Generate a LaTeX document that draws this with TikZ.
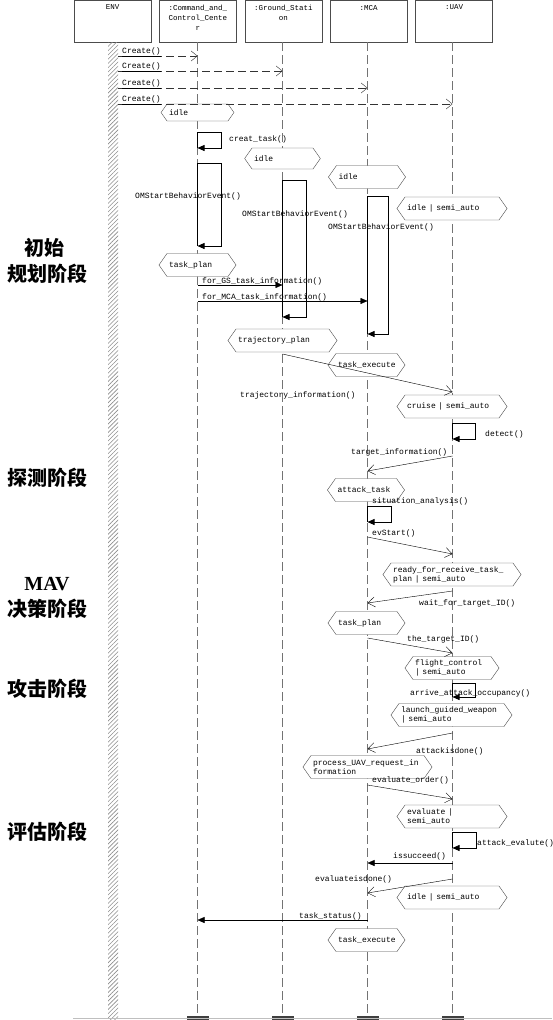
\documentclass[tikz,border=0pt]{standalone}
\usepackage{fontspec}
\setmainfont{Liberation Serif}
\newfontfamily\monofont{Liberation Mono}
\newfontfamily\cjkfont{Noto Sans CJK SC}
\usetikzlibrary{shapes.symbols,arrows.meta,patterns.meta,positioning}

\tikzstyle{object} = [
        rectangle,
        minimum width=77pt,
        minimum height=42pt,
        inner sep=0pt,
        draw=black!70,
        font=\monofont\fontsize{7.5}{10}\selectfont
    ]
\tikzstyle{lifeline} = [black!55, dash pattern=on 9pt off 4pt]
\tikzstyle{state} = [
        signal,
        signal to=west and east,
        signal pointer angle=110,
        text width=57pt,
        minimum height=23pt,
        inner xsep=2pt,
        inner ysep=1pt,
        align=left,
        draw=black!70,
        fill=white,
        font=\monofont\fontsize{8}{9}\selectfont
    ]
\tikzstyle{call} = [black, -{Triangle[length=7pt,width=6pt]}]
\tikzstyle{send} = [black, -{Straight Barb[length=7pt,width=10pt]}]
\tikzstyle{create} = [black!80, dash pattern=on 8pt off 4pt, -{Straight Barb[length=6pt,width=10pt]}]
\tikzstyle{msglabel} = [anchor=base west, inner sep=0pt, font=\monofont\fontsize{8}{9}\selectfont]
\tikzstyle{stage} = [inner sep=0pt, font=\cjkfont\bfseries\fontsize{20}{22}\selectfont]

\begin{document}
\begin{tikzpicture}[x=1pt, y=-1pt]
        \useasboundingbox (0,0) rectangle (552,1020);

        % objects
        \node [object] (env) at (112.5,21) {\parbox[t][32pt][t]{74pt}{\centering ENV}};
        \node [object, right=8pt of env] (cmd) {\parbox[t][32pt][t]{74pt}{\centering :Command\_and\_\\Control\_Cente\\r}};
        \node [object, right=8pt of cmd] (gs) {\parbox[t][32pt][t]{74pt}{\centering :Ground\_Stati\\on}};
        \node [object, right=8pt of gs] (mca) {\parbox[t][32pt][t]{74pt}{\centering :MCA}};
        \node [object, right=8pt of mca] (uav) {\parbox[t][32pt][t]{74pt}{\centering :UAV}};

        % lifelines
        \fill [pattern={Lines[angle=45, distance=3pt, line width=0.6pt]}, pattern color=black!45] (108,42) rectangle (118,1020);
        \foreach \x in {197.5,282.5,367.5,452.5} {
            \draw [lifeline] (\x,42) -- (\x,1016);
            \fill [black!75] (\x-11,1016) rectangle (\x+11,1020);
        }
        \draw [black!25] (73,1018) -- (552,1018);

        % phases
        \node [stage] (phase1a) at (44,248) {初始};
        \node [stage] (phase1b) at (48,274) {规划阶段};
        \node [stage] (phase2) at (47,478) {探测阶段};
        \node [stage, font=\bfseries\fontsize{20}{22}\selectfont] (phase3a) at (47,584) {MAV};
        \node [stage] (phase3b) at (47,609) {决策阶段};
        \node [stage] (phase4) at (47,689) {攻击阶段};
        \node [stage] (phase5) at (47,832) {评估阶段};

        % states
        \node [state, minimum height=17pt] (cmdidle) at (197.5,112.5) {idle};
        \node [state, minimum height=21pt] (gsidle) at (282.5,158.5) {idle};
        \node [state] (mcaidle) at (367,177) {idle};
        \node [state, text width=90pt] (uavidle) at (452,208.5) {idle | semi\_auto};
        \node [state] (cmdplan) at (197.5,265) {task\_plan};
        \node [state, text width=89pt] (gsplan) at (282.5,340.5) {trajectory\_plan};
        \node [state] (mcaexec) at (366.5,365) {task\_execute};
        \node [state, text width=90pt] (uavcruise) at (452,406.5) {cruise | semi\_auto};
        \node [state] (mcaattack) at (366,490) {attack\_task};
        \node [state, text width=118pt] (uavready) at (452,574.5) {ready\_for\_receive\_task\_\\plan | semi\_auto};
        \node [state] (mcaplan) at (366.5,623) {task\_plan};
        \node [state, text width=74pt] (uavflight) at (452,668) {flight\_control\\| semi\_auto};
        \node [state, text width=101pt] (uavlaunch) at (451.5,715) {launch\_guided\_weapon\\| semi\_auto};
        \node [state, text width=109pt] (mcaprocess) at (367.5,767) {process\_UAV\_request\_in\\formation};
        \node [state, text width=90pt] (uaveval) at (452,816.5) {evaluate |\\semi\_auto};
        \node [state, text width=90pt] (uavidle2) at (452,897.5) {idle | semi\_auto};
        \node [state] (mcaexec2) at (366.5,940) {task\_execute};

        % create messages
        \foreach \y/\x/\n in {56/197.5/1, 71/282.5/2, 88/367.5/3, 104/452.5/4} {
            \coordinate (envout\n) at (118,\y);
            \coordinate (newin\n) at (\x,\y);
            \draw [create] (envout\n) -- (newin\n);
            \node [msglabel] (createlbl\n) at (122,\y-3) {\underline{Create()}};
        }

        % self messages
        \foreach \x/\top/\bot/\w/\n in {197.5/132/148/24/1, 197.5/163/246/24/2, 282.5/180/317/24/3, 367.5/196/334/21/4, 452.5/423/439/23/5, 367.5/506/522/24/6, 452.5/683/697/23/7, 452.5/832/848/24/8} {
            \coordinate (selftop\n) at (\x,\top);
            \coordinate (selfbot\n) at (\x,\bot);
            \draw [black, semithick] (selftop\n) -- (selfbot\n);
            \draw [call, semithick] (selftop\n) -- ++(\w,0) |- (selfbot\n);
        }
        \node [msglabel] (lblcreat) at (229,141) {creat\_task()};
        \node [msglabel] (lblstart1) at (135,198) {OMStartBehaviorEvent()};
        \node [msglabel] (lblstart2) at (242,216) {OMStartBehaviorEvent()};
        \node [msglabel] (lblstart3) at (328,229) {OMStartBehaviorEvent()};
        \node [msglabel] (lbldetect) at (485,436) {detect()};
        \node [msglabel] (lblsitu) at (372,503) {situation\_analysis()};
        \node [msglabel] (lblarrive) at (410,695) {arrive\_attack\_occupancy()};
        \node [msglabel] (lblattackeval) at (477,845) {attack\_evalute()};

        % messages between objects
        \coordinate (cmdgs) at (197.5,285);
        \coordinate (gsin) at (282.5,285);
        \coordinate (cmdmca) at (197.5,301);
        \coordinate (mcain) at (367.5,301);
        \coordinate (gstraj) at (282.5,354);
        \coordinate (uavtraj) at (452.5,392);
        \coordinate (uavtarget) at (452.5,456);
        \coordinate (mcatarget) at (367.5,471);
        \coordinate (mcaev) at (367.5,537);
        \coordinate (uavev) at (452.5,554);
        \coordinate (uavwait) at (452.5,591);
        \coordinate (mcawait) at (367.5,603);
        \coordinate (mcaid) at (367.5,638);
        \coordinate (uavid) at (452.5,653);
        \coordinate (uavdone) at (452.5,733);
        \coordinate (mcadone) at (367.5,749);
        \coordinate (mcaorder) at (367.5,785);
        \coordinate (uavorder) at (452.5,799);
        \coordinate (uavsucc) at (452.5,863);
        \coordinate (mcasucc) at (367.5,863);
        \coordinate (uavevdone) at (452.5,879);
        \coordinate (mcaevdone) at (367.5,893);
        \coordinate (mcastatus) at (367.5,920);
        \coordinate (cmdstatus) at (197.5,920);

        \draw [call] (cmdgs) -- (gsin);
        \draw [call] (cmdmca) -- (mcain);
        \draw [send] (gstraj) -- (uavtraj);
        \draw [send] (uavtarget) -- (mcatarget);
        \draw [send] (mcaev) -- (uavev);
        \draw [send] (uavwait) -- (mcawait);
        \draw [send] (mcaid) -- (uavid);
        \draw [send] (uavdone) -- (mcadone);
        \draw [send] (mcaorder) -- (uavorder);
        \draw [call] (uavsucc) -- (mcasucc);
        \draw [send] (uavevdone) -- (mcaevdone);
        \draw [call] (mcastatus) -- (cmdstatus);

        \node [msglabel] (lblgs) at (202,283) {for\_GS\_task\_information()};
        \node [msglabel] (lblmca) at (202,299) {for\_MCA\_task\_information()};
        \node [msglabel] (lbltraj) at (240,397) {trajectory\_information()};
        \node [msglabel] (lbltarget) at (351,454) {target\_information()};
        \node [msglabel] (lblev) at (372,535) {evStart()};
        \node [msglabel] (lblwait) at (419,605) {wait\_for\_target\_ID()};
        \node [msglabel] (lblid) at (407,641) {the\_target\_ID()};
        \node [msglabel] (lbldone) at (416,753) {attackisdone()};
        \node [msglabel] (lblorder) at (372,782) {evaluate\_order()};
        \node [msglabel] (lblsucc) at (393,858) {issucceed()};
        \node [msglabel] (lblevdone) at (315,881) {evaluateisdone()};
        \node [msglabel] (lblstatus) at (299,918) {task\_status()};

\end{tikzpicture}
\end{document}
